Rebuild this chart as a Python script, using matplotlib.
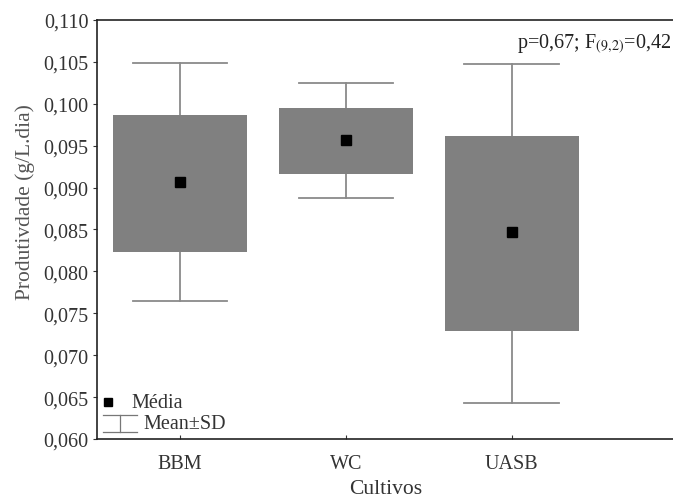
import matplotlib.pyplot as plt

cultivos = ["BBM", "WC", "UASB"]
media = [0.0907, 0.0957, 0.0847]
box_baixo = [0.0823, 0.0916, 0.0729]
box_alto = [0.0987, 0.0995, 0.0962]
sd_baixo = [0.0765, 0.0887, 0.0643]
sd_alto = [0.1049, 0.1025, 0.1047]
yticks = [0.060, 0.065, 0.070, 0.075, 0.080, 0.085, 0.090, 0.095, 0.100, 0.105, 0.110]

plt.rcParams['font.family'] = ['Liberation Serif', 'DejaVu Serif']

fig = plt.figure(figsize=(6.73, 5.02), dpi=100)
ax = fig.add_axes([0.144, 0.1235, 0.858, 0.835])

x = list(range(len(cultivos)))
box_w = 0.81
cap_w = 0.57
for i in x:
    # whiskers (mean +- SD)
    ax.plot([i, i], [sd_baixo[i], sd_alto[i]], color='#8a8a8a', lw=1.3, zorder=1)
    for v in (sd_baixo[i], sd_alto[i]):
        ax.plot([i - cap_w / 2, i + cap_w / 2], [v, v], color='#8a8a8a', lw=1.3, zorder=1)
    ax.bar(i, box_alto[i] - box_baixo[i], bottom=box_baixo[i], width=box_w,
           color='#808080', edgecolor='none', zorder=2)
ax.plot(x, media, 's', color='black', markersize=7, zorder=3)

ax.set_xlim(-0.5, 2.98)
ax.set_ylim(0.060, 0.110)
ax.set_yticks(yticks)
ax.set_yticklabels([f"{v:.3f}".replace('.', ',') for v in yticks])
ax.set_xticks(x)
ax.set_xticklabels(cultivos)
ax.tick_params(axis='both', labelsize=14.5, colors='#333333', length=3, width=0.8)
ax.tick_params(axis='y', pad=3)
ax.tick_params(axis='x', direction='in', pad=11)
ax.set_ylabel("Produtivdade (g/L.dia)", fontsize=15.5, color='#555555')
ax.yaxis.set_label_coords(-0.108, 0.568)
ax.set_xlabel("Cultivos", fontsize=15.5, color='#333333', labelpad=4)
ax.spines['right'].set_visible(False)
for s in ('left', 'bottom', 'top'):
    ax.spines[s].set_linewidth(1.2)
    ax.spines[s].set_color('#222222')

ax.text(0.995, 0.945, "p=0,67; F$_{(9{,}2)}$=0,42", transform=ax.transAxes,
        ha='right', va='center', fontsize=14.5, color='#222222',
        math_fontfamily='stix')

# legenda desenhada a mao (canto inferior esquerdo)
tr = ax.transAxes
ax.plot([0.020], [0.088], 's', color='black', markersize=6, transform=tr, clip_on=False)
ax.text(0.059, 0.088, "Média", transform=tr, va='center', fontsize=14.5, color='#333333')
for yy in (0.057, 0.016):
    ax.plot([0.010, 0.069], [yy, yy], color='#777777', lw=0.9, transform=tr)
ax.plot([0.040, 0.040], [0.016, 0.057], color='#777777', lw=0.9, transform=tr)
ax.text(0.081, 0.036, "Mean±SD", transform=tr, va='center', fontsize=14.5, color='#333333')

fig.savefig("out.png", dpi=100)
